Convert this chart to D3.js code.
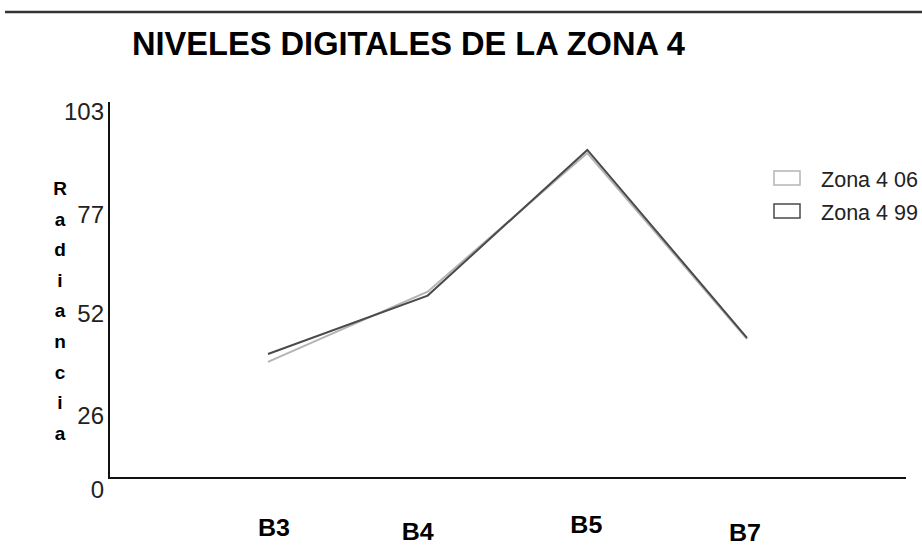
<!DOCTYPE html>
<html>
<head>
<meta charset="utf-8">
<script src="https://cdnjs.cloudflare.com/ajax/libs/d3/7.8.5/d3.min.js"></script>
<style>
  body { margin: 0; background: #fff; }
  text { font-family: "Liberation Sans Narrow", "Liberation Sans", Arial, sans-serif; }
</style>
</head>
<body>
<script>
// chart data
var bands = ['B3', 'B4', 'B5', 'B7'];
var zona06 = [39.7, 57.5, 92.6, 45.5];
var zona99 = [41.7, 56.5, 93.4, 45.8];
var seriesNames = ['Zona 4 06', 'Zona 4 99'];
var yTicks = [0, 26, 52, 77, 103];
var axisLetters = 'Radiancia'.split('');

var width = 922;
var height = 560;
var svg = d3.select('body').append('svg')
  .attr('width', width)
  .attr('height', height);

// frame of the plot
var plotLeft = 109, plotRight = 906, plotTop = 102, plotBottom = 478;

// x: bands evenly spaced
var x = d3.scalePoint().domain(bands).range([268, 747]);
// y: the old chart spaces its ticks unevenly near zero
var y = d3.scaleLinear().domain([0, 26, 103]).range([490, 416, 112]);

// top rule
svg.append('line')
  .attr('x1', 5).attr('x2', width)
  .attr('y1', 12).attr('y2', 12)
  .attr('stroke', '#333').attr('stroke-width', 2.5);

// title
svg.append('text')
  .attr('x', 132).attr('y', 55)
  .attr('textLength', 553).attr('lengthAdjust', 'spacingAndGlyphs')
  .style('font-weight', 'bold').style('font-size', '34px')
  .text('NIVELES DIGITALES DE LA ZONA 4');

// axis lines
svg.append('line')
  .attr('x1', plotLeft).attr('x2', plotLeft).attr('y1', plotTop).attr('y2', plotBottom)
  .attr('stroke', '#111').attr('stroke-width', 2);
svg.append('line')
  .attr('x1', plotLeft - 1).attr('x2', plotRight).attr('y1', plotBottom).attr('y2', plotBottom)
  .attr('stroke', '#111').attr('stroke-width', 2);

// y tick labels (no tick marks)
var yAxis = d3.axisLeft(y).tickValues(yTicks).tickSize(0).tickPadding(0)
  .tickFormat(d3.format('d'));
var gy = svg.append('g').attr('transform', 'translate(104,0)').call(yAxis);
gy.select('.domain').remove();
gy.selectAll('text')
  .style('font-family', '"Liberation Sans Narrow", "Liberation Sans", Arial, sans-serif')
  .style('font-size', '24px').attr('fill', '#222');

// vertical axis title, one letter per line
svg.append('g').selectAll('text').data(axisLetters)
  .enter().append('text')
  .attr('x', 60)
  .attr('y', function(d, i) { return 195 + i * 30.6; })
  .attr('text-anchor', 'middle')
  .style('font-weight', 'bold').style('font-size', '19px')
  .text(function(d) { return d; });

// band labels under the axis
var labelNudgeX = [6, -10, -1, -2];
var labelNudgeY = [0, 4, -3, 5];
svg.append('g').selectAll('text').data(bands)
  .enter().append('text')
  .attr('x', function(d, i) { return x(d) + labelNudgeX[i]; })
  .attr('y', function(d, i) { return 536 + labelNudgeY[i]; })
  .attr('text-anchor', 'middle')
  .style('font-weight', 'bold').style('font-size', '23px')
  .attr('textLength', 32).attr('lengthAdjust', 'spacingAndGlyphs')
  .text(function(d) { return d; });

// lines
var line = d3.line()
  .x(function(d, i) { return x(bands[i]); })
  .y(function(d) { return y(d); });

var colors = ['#b4b4b4', '#4a4a4a'];
[zona06, zona99].forEach(function(vals, k) {
  svg.append('path')
    .datum(vals)
    .attr('d', line)
    .attr('fill', 'none')
    .attr('stroke', colors[k])
    .attr('stroke-width', 2);
});

// legend
var legend = svg.append('g').selectAll('g').data(seriesNames)
  .enter().append('g')
  .attr('transform', function(d, i) { return 'translate(0,' + (i * 33) + ')'; });
legend.append('rect')
  .attr('x', 774).attr('y', 171).attr('width', 26).attr('height', 14)
  .attr('fill', '#fff')
  .attr('stroke', function(d, i) { return colors[i]; })
  .attr('stroke-width', 1.5);
legend.append('text')
  .attr('x', 821).attr('y', 187)
  .attr('textLength', 97).attr('lengthAdjust', 'spacingAndGlyphs')
  .style('font-size', '22px').attr('fill', '#222')
  .text(function(d) { return d; });
</script>
</body>
</html>
